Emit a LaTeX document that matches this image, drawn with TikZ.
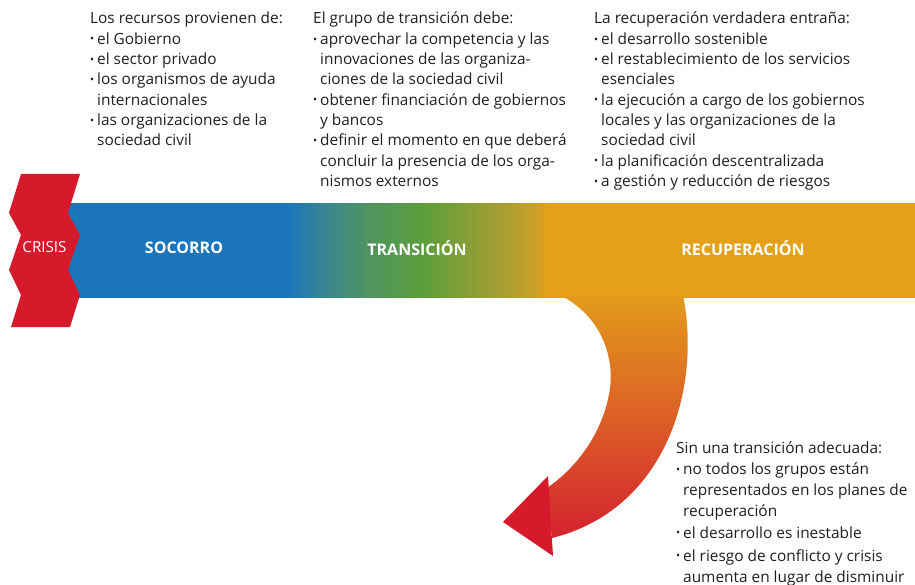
\documentclass[tikz,border=0pt]{standalone}
\usepackage{fontspec}
\setmainfont{Open Sans}
\definecolor{cred}{HTML}{D6192B}
\definecolor{cblue}{HTML}{1B75BB}
\definecolor{cteal}{HTML}{3B878F}
\definecolor{cgt}{HTML}{4F9461}
\definecolor{cgreen}{HTML}{5C9E3B}
\definecolor{colive}{HTML}{9E9E33}
\definecolor{cgold}{HTML}{C7A02A}
\definecolor{corange}{HTML}{E4A017}
\definecolor{ctext}{HTML}{231F20}
\definecolor{carrtop}{HTML}{E39C1C}
\definecolor{carrmid}{HTML}{DC6A29}
\definecolor{carrbot}{HTML}{D4222F}
\pgfdeclarehorizontalshading{barshade}{100bp}{color(0bp)=(cblue); color(37.9bp)=(cblue); color(40.3bp)=(cteal); color(42.65bp)=(cgt); color(45.96bp)=(cgreen); color(50.1bp)=(colive); color(52.45bp)=(cgold); color(53.3bp)=(corange); color(100bp)=(corange)}
\newcommand{\bu}{\makebox[7pt][l]{\raisebox{0.15ex}{\fontsize{11}{11}\selectfont\textbullet}}}
\newcommand{\ind}{\hspace*{7pt}}
\tikzset{
  blk/.style={anchor=north west, inner sep=0pt, align=left, text=ctext, font=\fontsize{15.4}{20.3}\selectfont},
  lbl/.style={text=white, font=\bfseries\fontsize{16}{18}\selectfont, inner sep=0pt},
}
\begin{document}
\begin{tikzpicture}[x=1pt,y=-1pt]
\useasboundingbox[fill=white] (0,0) rectangle (915,585);
% bar
\shade[shading=barshade] (68,204) rectangle (915,297);
% curved arrow shaft
\shade[top color=carrtop, middle color=carrmid, bottom color=carrbot]
  (683,295) .. controls (702,390) and (665,510) .. (552,538)
  -- (547,488) .. controls (595,455) and (615,400) .. (610,365)
  .. controls (605,330) and (585,308) .. (560,295) -- cycle;
% arrow head
\fill[cred] (548,476) -- (503,522) -- (553,556) -- cycle;
% crisis shape
\fill[cred] (21,174) -- (80,174) -- (68,213) -- (80,235) -- (68,270) -- (80,295) -- (70,327)
  -- (11,327) -- (21,295) -- (9,270) -- (21,235) -- (9,213) -- cycle;
\node[text=white, inner sep=0pt, font=\fontsize{15.2}{18}\selectfont] (crisis) at (44.5,247) {CRISIS};
\node[lbl] (socorro) at (184,248) {SOCORRO};
\node[lbl] (transicion) at (417,248) {TRANSICIÓN};
\node[lbl] (recuperacion) at (743,248) {RECUPERACIÓN};
% text blocks
\node[blk] (recursos) at (90,12) {Los recursos provienen de:\\
\bu el Gobierno\\
\bu el sector privado\\
\bu los organismos de ayuda\\
\ind internacionales\\
\bu las organizaciones de la\\
\ind sociedad civil};
\node[blk] (grupo) at (313,12) {El grupo de transición debe:\\
\bu aprovechar la competencia y las\\
\ind innovaciones de las organiza-\\
\ind ciones de la sociedad civil\\
\bu obtener financiación de gobiernos\\
\ind y bancos\\
\bu definir el momento en que deberá\\
\ind concluir la presencia de los orga-\\
\ind nismos externos};
\node[blk] (verdadera) at (594,12) {La recuperación verdadera entraña:\\
\bu el desarrollo sostenible\\
\bu el restablecimiento de los servicios\\
\ind esenciales\\
\bu la ejecución a cargo de los gobiernos\\
\ind locales y las organizaciones de la\\
\ind sociedad civil\\
\bu la planificación descentralizada\\
\bu a gestión y reducción de riesgos};
\node[blk] (sin) at (676,441) {Sin una transición adecuada:\\[1pt]
\bu no todos los grupos están\\[1pt]
\ind representados en los planes de\\[1pt]
\ind recuperación\\[1pt]
\bu el desarrollo es inestable\\[2.5pt]
\bu el riesgo de conflicto y crisis\\[1pt]
\ind aumenta en lugar de disminuir};
\end{tikzpicture}
\end{document}
